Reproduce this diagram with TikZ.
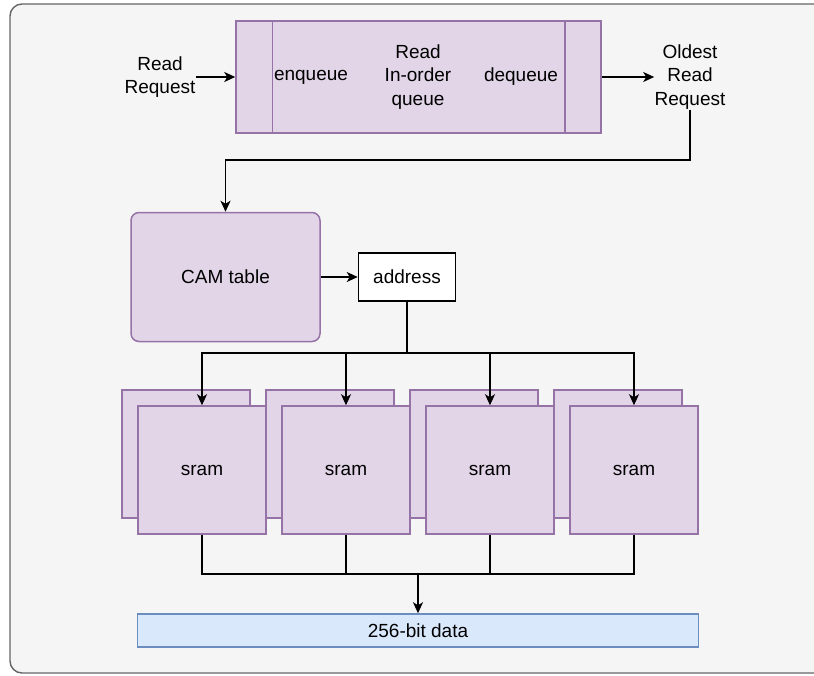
\documentclass[tikz,border=0pt]{standalone}
\usepackage{fontspec}
\setmainfont{Liberation Sans}
\usetikzlibrary{positioning, arrows.meta, calc}
\definecolor{frameFill}{HTML}{F5F5F5}
\definecolor{frameLine}{HTML}{666666}
\definecolor{purpFill}{HTML}{E1D5E7}
\definecolor{purpLine}{HTML}{9673A6}
\definecolor{blueFill}{HTML}{DAE8FC}
\definecolor{blueLine}{HTML}{6C8EBF}

\begin{document}
\begin{tikzpicture}[
        x=0.5pt, y=-0.5pt,
        font=\fontsize{9.5}{11.75}\selectfont,
        blk/.style={rectangle, draw=purpLine, fill=purpFill, line width=0.75pt, inner sep=0pt},
        sramblk/.style={blk, minimum width=64pt, minimum height=64pt},
        lbl/.style={align=center, inner sep=0pt},
        arr/.style={-{Stealth[length=5.5pt, width=5pt, inset=1.5pt]}, line width=0.85pt},
        wire/.style={line width=0.85pt}
    ]
    \useasboundingbox (0,0) rectangle (814,675);
    \fill[white] (0,0) rectangle (814,675);
    \begin{scope}
        \clip (0,0) rectangle (814,675);
        \draw[fill=frameFill, draw=frameLine, line width=0.7pt, rounded corners=6pt]
            (10,4) rectangle (840,673);
    \end{scope}

    % in-order queue
    \node[blk, minimum width=182.5pt, minimum height=56pt] (q) at (418.5,77) {};
    \draw[purpLine, line width=0.75pt] ([xshift=18.5pt]q.north west) -- ([xshift=18.5pt]q.south west);
    \draw[purpLine, line width=0.75pt] ([xshift=-18.5pt]q.north east) -- ([xshift=-18.5pt]q.south east);
    \node[lbl] (enq)  at (311,77) {enqueue};
    \node[lbl] (qlbl) at (418,77) {Read\\In-order\\queue};
    \node[lbl] (deq)  at (521,77) {dequeue};
    \node[lbl] (rreq) at (160,77) {Read\\Request};
    \node[lbl] (oldest) at (690,77) {Oldest\\Read\\Request};

    \draw[arr] (rreq.east) -- (q.west);
    \draw[arr] (q.east) -- (oldest.west);

    % lookup
    \node[blk, rounded corners=4pt, minimum width=94.5pt, minimum height=64.5pt] (cam) at (225.5,277) {CAM table};
    \node[rectangle, draw=black, fill=white, line width=0.75pt, minimum width=48.5pt, minimum height=24pt] (addr) at (407,277) {address};

    \coordinate (bend) at (690,160);
    \draw[arr] (oldest.south) -- (bend) -| (cam.north);
    \draw[arr] (cam.east) -- (addr.west);

    % sram banks
    \node[sramblk] (sramB1) at (186,454) {};
    \node[sramblk] (sramB2) at (330,454) {};
    \node[sramblk] (sramB3) at (474,454) {};
    \node[sramblk] (sramB4) at (618,454) {};
    \node[sramblk] (sram1) at (202,470) {sram};
    \node[sramblk] (sram2) at (346,470) {sram};
    \node[sramblk] (sram3) at (490,470) {sram};
    \node[sramblk] (sram4) at (634,470) {sram};

    \coordinate (split) at (407,353);
    \draw[wire] (addr.south) -- (split);
    \draw[arr] (split) -| (sram1.north);
    \draw[arr] (split) -| (sram2.north);
    \draw[arr] (split) -| (sram3.north);
    \draw[arr] (split) -| (sram4.north);

    % output
    \node[rectangle, draw=blueLine, fill=blueFill, line width=0.75pt, minimum width=280.5pt, minimum height=16.5pt, inner sep=0pt] (data) at (418,630.5) {256-bit data};

    \coordinate (join) at (418,574);
    \draw[wire] (sram1.south) |- (join);
    \draw[wire] (sram2.south) |- (join);
    \draw[wire] (sram3.south) |- (join);
    \draw[wire] (sram4.south) |- (join);
    \draw[arr] (join) -- (data.north);
\end{tikzpicture}
\end{document}
